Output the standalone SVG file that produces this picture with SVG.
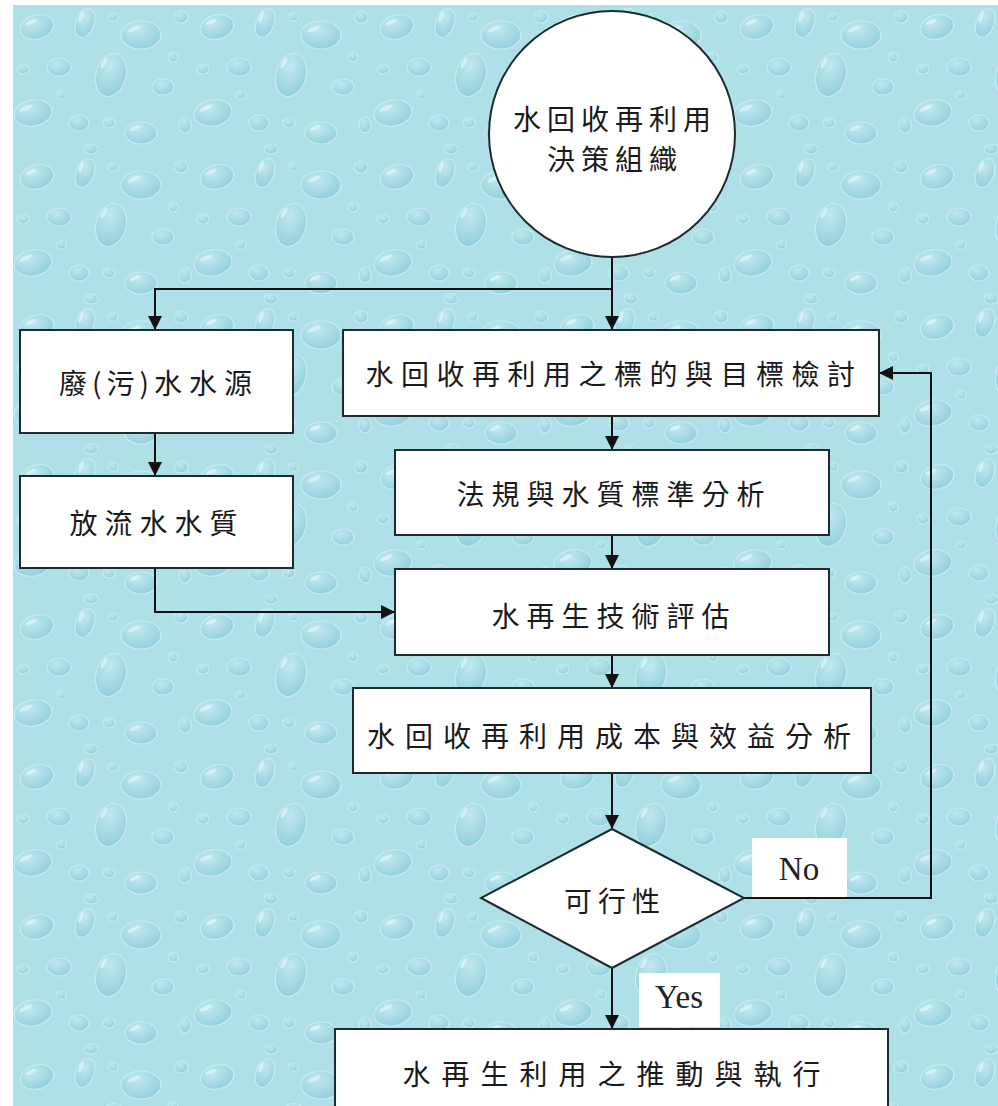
<svg xmlns="http://www.w3.org/2000/svg" width="998" height="1106" viewBox="0 0 998 1106">
<defs>
<radialGradient id="drop" cx="0.4" cy="0.3" r="0.8">
<stop offset="0" stop-color="#c4ebf0"/>
<stop offset="0.6" stop-color="#9fd7e1"/>
<stop offset="1" stop-color="#86c9d7"/>
</radialGradient>
<pattern id="water" x="13" y="5" width="180" height="150" patternUnits="userSpaceOnUse">
<rect width="180" height="150" fill="#afe0e8"/>
<g fill="url(#drop)" stroke="#c9eef3" stroke-width="1.2" opacity="0.85">
<ellipse cx="24" cy="22" rx="17" ry="12" transform="rotate(-15 24 22)"/>
<ellipse cx="72" cy="18" rx="9" ry="15" transform="rotate(20 72 18)"/>
<ellipse cx="128" cy="30" rx="20" ry="14"/>
<ellipse cx="168" cy="12" rx="7" ry="6"/>
<ellipse cx="46" cy="62" rx="12" ry="9"/>
<ellipse cx="98" cy="70" rx="15" ry="22" transform="rotate(15 98 70)"/>
<ellipse cx="150" cy="82" rx="11" ry="8"/>
<ellipse cx="20" cy="108" rx="19" ry="13" transform="rotate(-10 20 108)"/>
<ellipse cx="66" cy="118" rx="10" ry="8"/>
<ellipse cx="128" cy="128" rx="16" ry="11"/>
<ellipse cx="172" cy="120" rx="6" ry="8"/>
<ellipse cx="48" cy="90" rx="5" ry="4"/>
<ellipse cx="160" cy="52" rx="5" ry="5"/>
<ellipse cx="10" cy="64" rx="6" ry="5"/>
<ellipse cx="96" cy="118" rx="6" ry="5"/>
<ellipse cx="100" cy="12" rx="5" ry="4"/>
<ellipse cx="78" cy="144" rx="7" ry="5"/>
</g>
<g fill="#e3f7f9" opacity="0.7">
<ellipse cx="18" cy="17" rx="6" ry="2" transform="rotate(-25 18 17)"/>
<ellipse cx="121" cy="24" rx="7" ry="2" transform="rotate(-25 121 24)"/>
<ellipse cx="91" cy="58" rx="6" ry="2" transform="rotate(-60 91 58)"/>
<ellipse cx="13" cy="103" rx="7" ry="2" transform="rotate(-25 13 103)"/>
<ellipse cx="122" cy="123" rx="6" ry="2" transform="rotate(-25 122 123)"/>
<ellipse cx="68" cy="12" rx="2" ry="6" transform="rotate(20 68 12)"/>
</g>
</pattern>
<marker id="arr" markerWidth="14" markerHeight="14" refX="13" refY="7" orient="auto" markerUnits="userSpaceOnUse">
<path d="M0,0 L14,7 L0,14 Z" fill="#111"/>
</marker>
<style>
.box{fill:#fff;stroke:#1b2b2f;stroke-width:2}
.t{font-family:"Noto Sans CJK TC","Noto Sans CJK SC",sans-serif;font-size:28px;fill:#1a1a1a;text-anchor:middle;dominant-baseline:central}
.c{fill:none;stroke:#111;stroke-width:2}
.lbl{font-family:"Liberation Serif",serif;font-size:33px;fill:#222;text-anchor:middle}
</style>
</defs>
<rect width="998" height="1106" fill="#fff"/>
<rect x="13" y="5" width="985" height="1101" fill="url(#water)"/>

<g id="connectors">
<path class="c" d="M612,257 V329" marker-end="url(#arr)"/>
<path class="c" d="M612,289 H155 V329" marker-end="url(#arr)"/>
<path class="c" d="M155,433 V475" marker-end="url(#arr)"/>
<path class="c" d="M155,568 V612 H394" marker-end="url(#arr)"/>
<path class="c" d="M612,416 V449" marker-end="url(#arr)"/>
<path class="c" d="M612,535 V568" marker-end="url(#arr)"/>
<path class="c" d="M612,655 V687" marker-end="url(#arr)"/>
<path class="c" d="M612,773 V828" marker-end="url(#arr)"/>
<path class="c" d="M612,968 V1028" marker-end="url(#arr)"/>
<path class="c" d="M744,898 H931 V373 H880" marker-end="url(#arr)"/>
</g>

<g id="node-org">
<circle class="box" cx="612" cy="134" r="123"/>
<text class="t" x="615" y="118" style="letter-spacing:6px">水回收再利用</text>
<text class="t" x="615" y="158" style="letter-spacing:6px">決策組織</text>
</g>
<g id="node-source">
<rect class="box" x="20" y="330" width="273" height="103"/>
<text class="t" x="159" y="382"><tspan style="letter-spacing:5px">廢(污)</tspan><tspan style="letter-spacing:7px">水水源</tspan></text>
</g>
<g id="node-effluent">
<rect class="box" x="20" y="476" width="273" height="92"/>
<text class="t" x="157" y="522" style="letter-spacing:7px">放流水水質</text>
</g>
<g id="node-goal">
<rect class="box" x="343" y="330" width="536" height="86"/>
<text class="t" x="614" y="373" style="letter-spacing:7.5px">水回收再利用之標的與目標檢討</text>
</g>
<g id="node-law">
<rect class="box" x="395" y="450" width="434" height="85"/>
<text class="t" x="614" y="493" style="letter-spacing:7px">法規與水質標準分析</text>
</g>
<g id="node-tech">
<rect class="box" x="395" y="569" width="434" height="86"/>
<text class="t" x="614" y="615" style="letter-spacing:7px">水再生技術評估</text>
</g>
<g id="node-cost">
<rect class="box" x="353" y="688" width="518" height="85"/>
<text class="t" x="614" y="735" style="letter-spacing:10px">水回收再利用成本與效益分析</text>
</g>
<g id="node-feasible">
<polygon class="box" points="612,829 744,898 612,968 481,898"/>
<text class="t" x="615" y="900" style="letter-spacing:6px">可行性</text>
</g>
<g id="label-no">
<rect x="752" y="838" width="95" height="59" fill="#fff"/>
<text class="lbl" x="799" y="880">No</text>
</g>
<g id="label-yes">
<rect x="639" y="973" width="81" height="54" fill="#fff"/>
<text class="lbl" x="679" y="1008">Yes</text>
</g>
<g id="node-exec">
<rect class="box" x="335" y="1029" width="553" height="90"/>
<text class="t" x="617" y="1073" style="letter-spacing:11px">水再生利用之推動與執行</text>
</g>
</svg>
